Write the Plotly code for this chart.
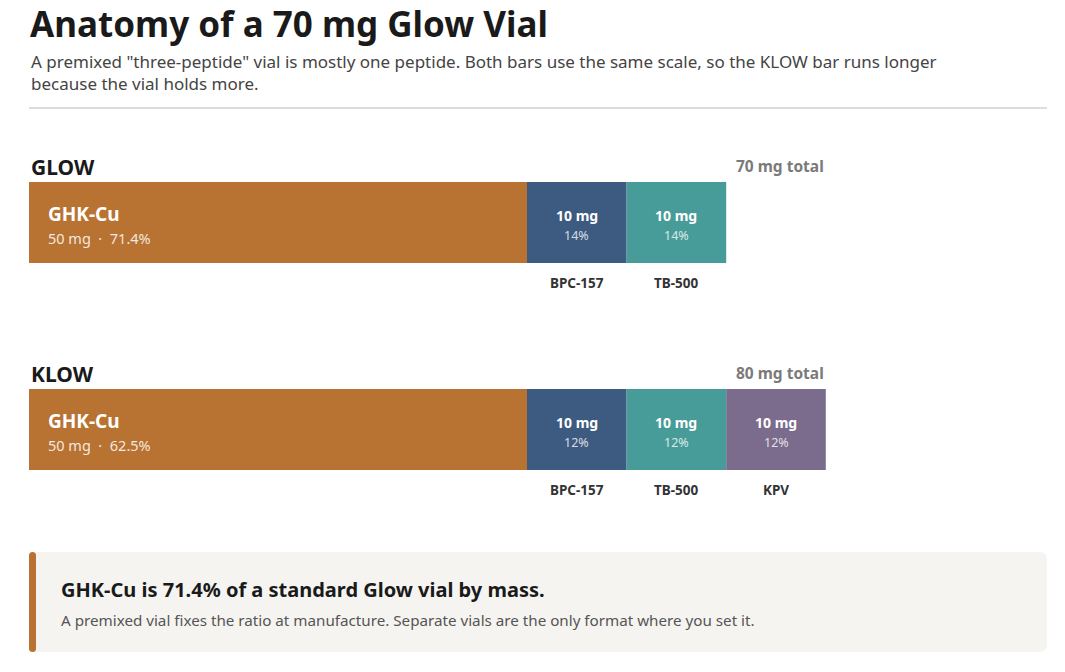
import numpy as np
import plotly.graph_objects as go

W, H = 1065, 672
OFF = 8  # the page body adds an 8 px margin, pull everything back by that much
FONT = "Noto Sans"

# data
vials = ["GLOW", "KLOW"]
vial_totals = ["70 mg total", "80 mg total"]
peptides = [["GHK-Cu", "BPC-157", "TB-500"], ["GHK-Cu", "BPC-157", "TB-500", "KPV"]]
mg = [[50, 10, 10], [50, 10, 10, 10]]
pct = [["71.4%", "14%", "14%"], ["62.5%", "12%", "12%", "12%"]]

colors = {"GHK-Cu": "#B87333", "BPC-157": "#3D5A80", "TB-500": "#479C99", "KPV": "#7B6B8D"}


def px(x):
    return (x - OFF) / W


def py(y):
    return 1 - (y - OFF) / H


def rounded_rect(x0, y0, x1, y1, r):
    pts = [
        f"M {px(x0 + r)} {py(y0)}",
        f"L {px(x1 - r)} {py(y0)}",
        f"Q {px(x1)} {py(y0)} {px(x1)} {py(y0 + r)}",
        f"L {px(x1)} {py(y1 - r)}",
        f"Q {px(x1)} {py(y1)} {px(x1 - r)} {py(y1)}",
        f"L {px(x0 + r)} {py(y1)}",
        f"Q {px(x0)} {py(y1)} {px(x0)} {py(y1 - r)}",
        f"L {px(x0)} {py(y0 + r)}",
        f"Q {px(x0)} {py(y0)} {px(x0 + r)} {py(y0)}",
        "Z",
    ]
    return " ".join(pts)


fig = go.Figure()
annotations = []

for row, (vial, names, vals, pcts) in enumerate(zip(vials, peptides, mg, pct)):
    vals = np.array(vals)
    starts = np.concatenate([[0], np.cumsum(vals)[:-1]])
    fig.add_trace(go.Bar(
        y=[row] * len(vals), x=vals, base=starts, orientation="h",
        width=0.391, marker=dict(color=[colors[n] for n in names], line=dict(width=0)),
        hoverinfo="skip", showlegend=False,
    ))

    annotations.append(dict(x=0, y=row, xref="x", yref="y", yshift=56, xanchor="left",
                            text=f"<b>{vial}</b>", showarrow=False,
                            font=dict(size=21, color="#1a1a1a")))
    annotations.append(dict(x=80, y=row, xref="x", yref="y", yshift=57, xanchor="right",
                            text=f"<b>{vial_totals[row]}</b>", showarrow=False,
                            font=dict(size=15.5, color="#7a7a7a")))

    for i, (name, v, s, p) in enumerate(zip(names, vals, starts, pcts)):
        if i == 0:
            annotations.append(dict(x=s, y=row, xref="x", yref="y", xshift=17, yshift=9,
                                    xanchor="left", text=f"<b>{name}</b>", showarrow=False,
                                    font=dict(size=19, color="white")))
            annotations.append(dict(x=s, y=row, xref="x", yref="y", xshift=17, yshift=-15,
                                    xanchor="left", text=f"{v} mg  ·  {p}", showarrow=False,
                                    font=dict(size=14.5, color="rgba(255,255,255,0.85)")))
        else:
            c = s + v / 2
            annotations.append(dict(x=c, y=row, xref="x", yref="y", yshift=7,
                                    text=f"<b>{v} mg</b>", showarrow=False,
                                    font=dict(size=14, color="white")))
            annotations.append(dict(x=c, y=row, xref="x", yref="y", yshift=-13,
                                    text=p, showarrow=False,
                                    font=dict(size=12.5, color="rgba(255,255,255,0.8)")))
            annotations.append(dict(x=c, y=row, xref="x", yref="y", yshift=-60,
                                    text=f"<b>{name}</b>", showarrow=False,
                                    font=dict(size=13.5, color="#333333")))

# header text
annotations.append(dict(x=px(28), y=py(23), xref="paper", yref="paper", xanchor="left",
                        yanchor="middle", showarrow=False,
                        text="<b>Anatomy of a 70 mg Glow Vial</b>",
                        font=dict(size=35, color="#1a1a1a")))
annotations.append(dict(x=px(29), y=py(72), xref="paper", yref="paper", xanchor="left",
                        yanchor="middle", showarrow=False, align="left",
                        text='A premixed "three-peptide" vial is mostly one peptide. Both bars use the same scale, so the KLOW bar runs longer<br>because the vial holds more.',
                        font=dict(size=17, color="#444444")))

# callout text
annotations.append(dict(x=px(59), y=py(589), xref="paper", yref="paper", xanchor="left",
                        yanchor="middle", showarrow=False,
                        text="<b>GHK-Cu is 71.4% of a standard Glow vial by mass.</b>",
                        font=dict(size=20, color="#1a1a1a")))
annotations.append(dict(x=px(59), y=py(620), xref="paper", yref="paper", xanchor="left",
                        yanchor="middle", showarrow=False,
                        text="A premixed vial fixes the ratio at manufacture. Separate vials are the only format where you set it.",
                        font=dict(size=15.2, color="#555555")))

shapes = [
    dict(type="line", xref="paper", yref="paper", x0=px(29), x1=px(1047), y0=py(108), y1=py(108),
         line=dict(color="#dddddd", width=2)),
    dict(type="path", xref="paper", yref="paper", path=rounded_rect(29, 552, 1047, 652, 8),
         fillcolor="#f5f4f1", line=dict(width=0), layer="below"),
    dict(type="path", xref="paper", yref="paper", path=rounded_rect(29, 552, 36, 652, 3.5),
         fillcolor="#B87333", line=dict(width=0), layer="below"),
]

# x: 0 mg at px 29, 9.96 px per mg ; y: rows at px 222.5 and 429.5 (page pixels)
x_scale = 9.96
row_gap = 207.0
x0_px = 29 - OFF
y0_px = 222.5 - OFF
fig.update_layout(
    width=W, height=H, margin=dict(l=0, r=0, t=0, b=0),
    paper_bgcolor="white", plot_bgcolor="white",
    font=dict(family=FONT),
    barmode="overlay",
    xaxis=dict(range=[-x0_px / x_scale, (W - x0_px) / x_scale], visible=False, fixedrange=True),
    yaxis=dict(range=[(H - y0_px) / row_gap, -y0_px / row_gap], visible=False, fixedrange=True),
    annotations=annotations, shapes=shapes,
)

fig.write_html("out.html")
